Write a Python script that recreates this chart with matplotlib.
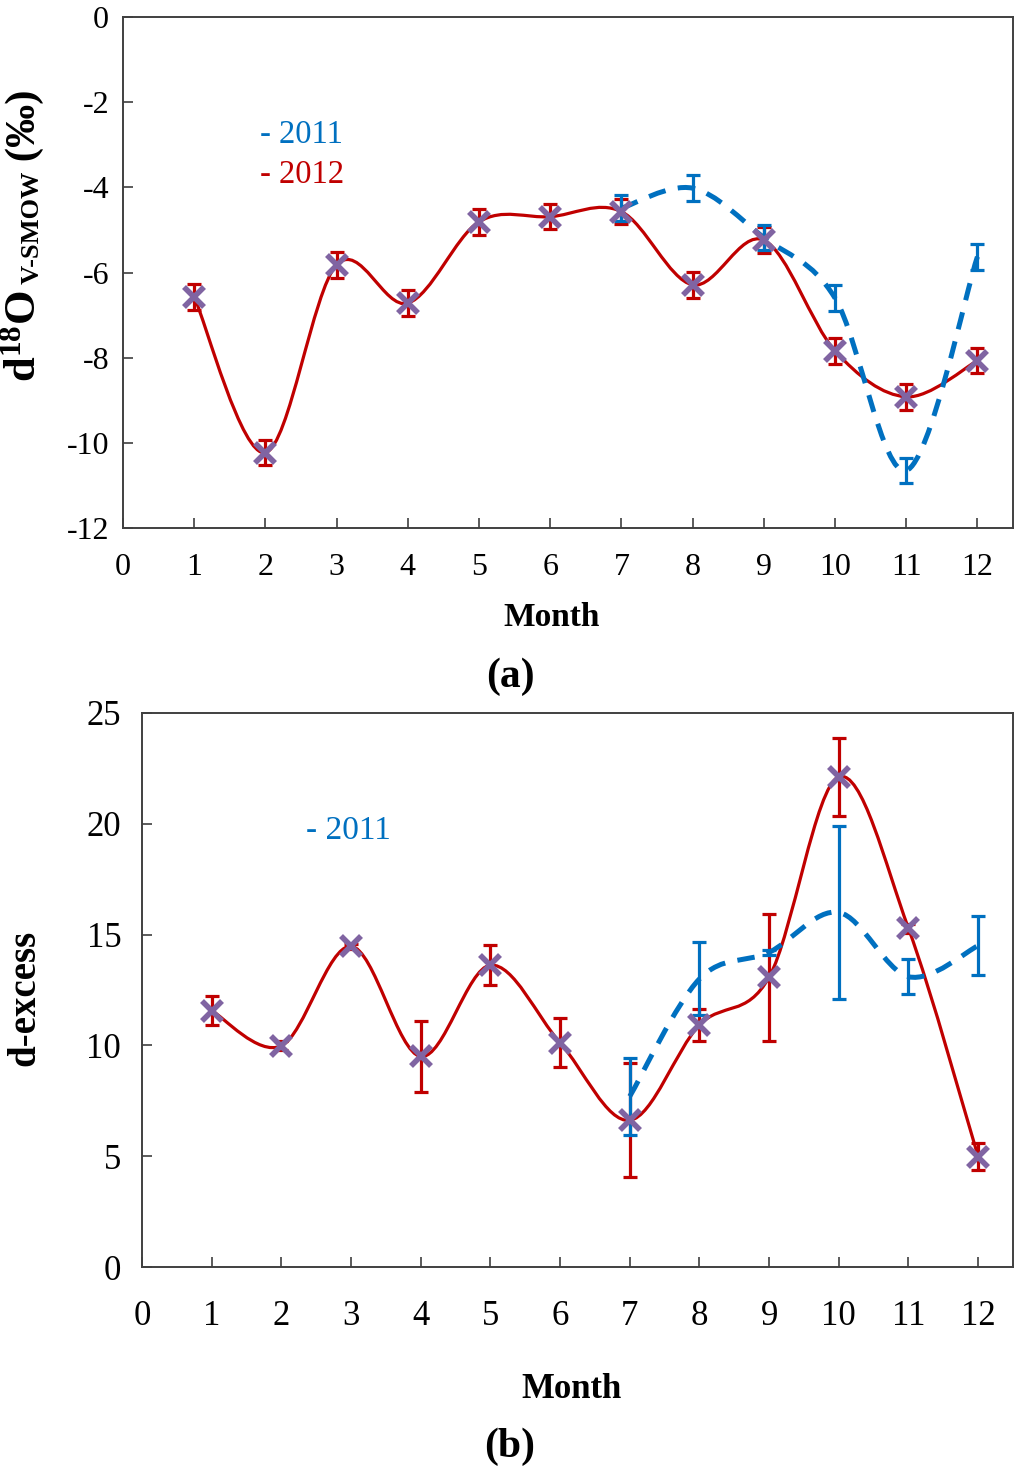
import numpy as np
import matplotlib.pyplot as plt
from matplotlib.path import Path
from matplotlib.patches import PathPatch

plt.rcParams['font.family'] = ['Liberation Serif', 'DejaVu Serif']
plt.rcParams['mathtext.fontset'] = 'custom'
plt.rcParams['mathtext.rm'] = 'Liberation Serif'
plt.rcParams['mathtext.bf'] = 'Liberation Serif:bold'
plt.rcParams['mathtext.it'] = 'Liberation Serif:italic'
plt.rcParams['axes.unicode_minus'] = False

# datos
months = [1, 2, 3, 4, 5, 6, 7, 8, 9, 10, 11, 12]
months_2011 = [7, 8, 9, 10, 11, 12]

# (a) d18O
d18o_2012 = [-6.57, -10.23, -5.82, -6.72, -4.81, -4.69, -4.57, -6.29, -5.24, -7.84, -8.92, -8.07]
d18o_2012_err = [0.3, 0.3, 0.3, 0.3, 0.3, 0.3, 0.3, 0.3, 0.3, 0.3, 0.3, 0.3]
d18o_2011 = [-4.49, -4.02, -5.18, -6.6, -10.65, -5.63]
d18o_2011_err = [0.3, 0.3, 0.3, 0.3, 0.3, 0.3]

# (b) d-excess
dex_2012 = [11.57, 9.98, 14.47, 9.5, 13.62, 10.12, 6.62, 10.92, 13.08, 22.12, 15.28, 4.98]
dex_2012_err = [0.65, 0.2, 0.1, 1.6, 0.9, 1.1, 2.58, 0.72, 2.86, 1.77, 0.2, 0.6]
dex_2011 = [7.7, 13.0, 14.2, 16.0, 13.1, 14.5]
dex_2011_err = [1.75, 1.65, 0.1, 3.9, 0.8, 1.33]

RED = '#C00000'
BLUE = '#0070C0'
PURPLE = '#8064A2'
AXC = '#404040'


def smooth_path(xs, ys):
    # curva suavizada tipo Excel (Bezier por Catmull-Rom)
    pts = np.column_stack([xs, ys]).astype(float)
    n = len(pts)
    verts = [pts[0]]
    codes = [Path.MOVETO]
    for i in range(n - 1):
        p0 = pts[i - 1] if i > 0 else pts[i]
        p1 = pts[i]
        p2 = pts[i + 1]
        p3 = pts[i + 2] if i + 2 < n else pts[i + 1]
        verts += [p1 + (p2 - p0) / 6, p2 - (p3 - p1) / 6, p2]
        codes += [Path.CURVE4] * 3
    return Path(verts, codes)


def draw_panel(ax, y12, e12, y11, e11):
    ax.add_patch(PathPatch(smooth_path(months, y12), facecolor='none', edgecolor=RED, lw=2.3, zorder=2))
    ax.add_patch(PathPatch(smooth_path(months_2011, y11), facecolor='none', edgecolor=BLUE, lw=3.6,
                           linestyle=(0, (3.5, 2.5)), zorder=2))
    ax.errorbar(months, y12, yerr=e12, fmt='none', ecolor=RED, elinewidth=2.3, capsize=5, capthick=2.3, zorder=3)
    ax.errorbar(months_2011, y11, yerr=e11, fmt='none', ecolor=BLUE, elinewidth=2.3, capsize=5, capthick=2.3, zorder=3)
    ax.plot(months, y12, 'x', color=PURPLE, ms=14, mew=4, zorder=4)
    ax.set_xlim(0, 12.5)
    ax.set_xticks(range(0, 13))
    for s in ax.spines.values():
        s.set_color(AXC)
        s.set_linewidth(1.4)


fig = plt.figure(figsize=(10.24, 14.78), dpi=100)

# panel (a)
ax1 = fig.add_axes([123 / 1024, 1 - 528 / 1478, 890 / 1024, 511 / 1478])
draw_panel(ax1, d18o_2012, d18o_2012_err, d18o_2011, d18o_2011_err)
ax1.set_ylim(-12, 0)
ax1.set_yticks(range(-12, 1, 2))
ax1.tick_params(axis='both', direction='in', length=7, width=1.2, color=AXC, labelsize=23)
ax1.tick_params(axis='x', pad=18)
ax1.tick_params(axis='y', pad=10)

fig.text(260 / 1024, 1 - 135 / 1478, '- 2011', color=BLUE, fontsize=23.5, ha='left', va='center')
fig.text(260 / 1024, 1 - 175 / 1478, '- 2012', color=RED, fontsize=23.5, ha='left', va='center')

# etiqueta del eje y en partes con tamaños distintos
t1 = fig.text(44 / 1024, 1 - 382 / 1478, r'$\mathbf{d^{18}O}$', rotation=90, ha='right', va='bottom', fontsize=32)
t2 = ax1.annotate(' V-SMOW', xy=(1, 1), xycoords=t1, rotation=90, ha='right', va='bottom',
                  fontsize=19, fontweight='bold', annotation_clip=False)
ax1.annotate(' (‰)', xy=(1, 1), xycoords=t2, rotation=90, ha='right', va='bottom',
             fontsize=31, fontweight='bold', annotation_clip=False)

fig.text(552 / 1024, 1 - 617 / 1478, 'Month', fontsize=24, fontweight='bold', ha='center', va='center')
fig.text(510 / 1024, 1 - 677 / 1478, '(a)', fontsize=30, fontweight='bold', ha='center', va='center')

# panel (b)
ax2 = fig.add_axes([142 / 1024, 1 - 1267 / 1478, 871 / 1024, 554 / 1478])
draw_panel(ax2, dex_2012, dex_2012_err, dex_2011, dex_2011_err)
ax2.set_ylim(0, 25)
ax2.set_yticks(range(0, 26, 5))
ax2.tick_params(axis='both', direction='in', length=7, width=1.2, color=AXC, labelsize=25)
ax2.tick_params(axis='x', pad=24)
ax2.tick_params(axis='y', pad=15)

fig.text(306 / 1024, 1 - 831 / 1478, '- 2011', color=BLUE, fontsize=24, ha='left', va='center')
fig.text(43 / 1024, 1 - 998 / 1478, 'd-excess', rotation=90, fontsize=28, fontweight='bold',
         ha='right', va='center')

fig.text(571 / 1024, 1 - 1390 / 1478, 'Month', fontsize=25, fontweight='bold', ha='center', va='center')
fig.text(510 / 1024, 1 - 1447 / 1478, '(b)', fontsize=30, fontweight='bold', ha='center', va='center')

plt.savefig('out.png', dpi=100)
